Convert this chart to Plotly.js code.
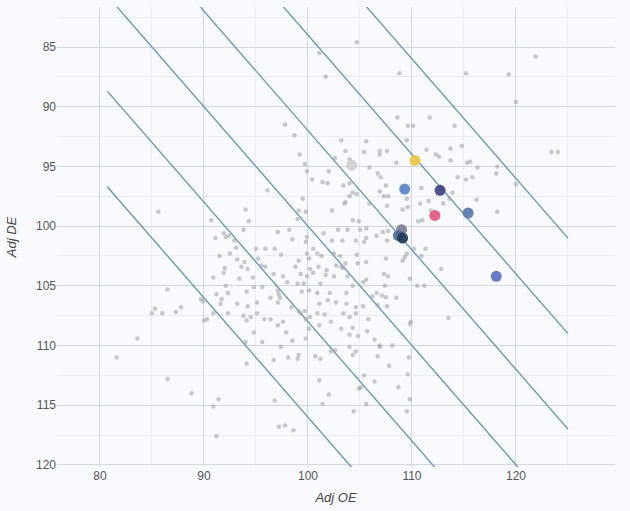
<!DOCTYPE html>
<html>
<head>
<meta charset="utf-8">
<script src="https://cdn.plot.ly/plotly-3.0.1.min.js"></script>
<style>
html,body{margin:0;padding:0;background:#f8fafd;}
#chart{width:630px;height:511px;}
</style>
</head>
<body>
<div id="chart"></div>
<script>
// All teams: adjusted offensive / defensive efficiency
const grayOE = [104.7,101.1,101.7,108.8,115.2,119.3,121.9,120.0,108.6,109.6,110.1,111.7,114.1,97.8,98.7,103.2,105.6,109.5,111.4,113.7,114.8,123.4,124.0,103.6,105.4,106.9,107.6,106.9,104.0,99.2,102.6,108.5,112.3,112.6,113.7,115.3,115.6,116.3,118.2,118.1,120.0,99.7,99.9,102.0,105.9,106.7,107.0,100.4,101.4,101.9,103.4,104.0,107.5,106.9,110.9,113.9,115.2,115.8,114.4,96.1,99.5,104.3,104.0,104.7,107.3,107.7,105.9,103.6,103.5,109.5,110.8,111.6,113.6,116.2,113.0,85.6,94.0,99.1,99.8,102.3,107.6,109.1,109.6,111.8,118.2,111.0,110.6,94.3,99.0,104.3,104.9,90.7,91.9,93.8,97.1,98.2,99.9,101.5,102.9,103.8,105.0,105.6,106.6,105.6,107.2,107.7,108.5,91.1,92.1,92.4,92.9,95.0,95.9,96.8,98.5,99.8,100.5,102.3,103.3,104.6,105.4,107.6,110.2,111.3,110.9,109.5,91.5,92.5,93.2,95.2,97.4,99.1,99.9,100.1,100.9,101.3,102.5,103.1,103.6,104.7,105.6,107.5,109.1,93.6,94.2,95.5,95.9,98.8,100.2,101.0,101.8,102.7,103.2,103.4,104.8,112.8,92.0,90.9,93.4,94.7,96.7,97.6,99.3,99.9,100.5,101.7,102.5,103.8,107.3,107.7,109.8,110.5,111.2,92.1,94.8,95.6,98.0,99.0,99.6,101.2,104.3,105.6,105.3,107.4,86.5,91.2,92.3,94.1,97.1,97.2,99.4,100.1,100.9,102.1,103.7,106.2,106.6,107.1,108.5,85.3,87.3,87.8,89.7,89.9,91.7,91.6,93.2,95.1,96.4,97.1,97.3,98.4,99.7,101.1,101.9,102.7,103.7,104.6,105.3,106.7,107.6,85.0,86.0,90.0,90.3,90.9,92.3,93.8,94.5,95.1,95.8,96.4,97.6,99.1,99.3,99.8,100.2,100.9,101.6,102.2,103.4,104.0,104.6,105.8,109.8,109.9,113.5,83.6,94.8,97.1,97.9,100.1,101.1,103.2,104.0,104.3,104.8,105.7,106.4,94.0,95.6,97.4,98.5,99.8,102.2,102.6,104.0,104.6,106.9,108.1,81.6,94.1,96.7,98.1,99.0,99.1,100.7,101.2,104.3,106.7,107.8,109.7,86.5,101.1,109.6,105.4,102.0,104.9,105.1,106.4,88.8,91.4,90.9,96.8,101.4,105.6,108.7,109.8,104.4,109.5,97.2,97.8,98.6,91.2,93.1,93.9,94.2,94.1,91.9,107.5,109.3,106.9];
const grayDE = [84.6,85.5,87.5,87.2,87.2,87.3,85.8,89.6,90.9,91.6,91.6,90.9,91.6,91.5,92.4,92.8,92.9,92.8,93.6,93.5,93.3,93.8,93.8,93.7,93.8,93.7,93.7,94.0,94.4,94.0,94.3,94.7,94.0,94.2,94.5,94.7,94.6,95.1,95.0,95.6,96.5,94.8,95.4,95.4,95.1,95.6,95.9,96.1,96.3,96.4,96.6,96.4,96.6,97.1,96.8,97.2,96.1,95.9,95.9,97.0,97.7,97.2,97.5,97.3,97.5,97.5,98.1,98.0,98.1,97.7,98.1,97.9,97.7,97.8,98.1,98.8,98.6,98.7,98.8,98.7,98.3,98.6,98.4,98.7,98.8,99.5,99.6,99.6,99.4,99.5,99.6,99.5,100.6,100.3,100.5,100.3,100.9,100.6,100.3,100.3,100.3,100.2,100.8,101.0,100.5,100.4,100.6,101.0,100.9,100.8,101.2,101.9,101.9,101.9,101.1,101.3,101.9,101.2,101.2,101.2,101.3,101.2,101.9,101.9,102.5,102.3,102.5,102.3,102.8,102.7,102.4,102.9,102.3,102.7,102.3,102.5,102.3,102.5,103.1,102.4,103.0,102.7,102.9,103.4,103.6,103.3,103.4,103.4,103.6,103.4,103.7,103.3,103.4,103.5,103.1,103.6,103.5,104.3,104.4,104.3,104.0,104.2,104.0,104.2,103.9,104.1,104.2,104.2,104.0,104.2,104.4,105.0,105.0,105.0,105.1,105.1,104.7,104.8,104.8,104.8,105.0,104.5,104.7,105.0,105.3,105.7,105.6,105.5,105.4,105.7,105.5,105.4,105.6,105.6,105.6,105.9,105.6,105.8,106.0,106.9,107.2,106.8,106.1,106.3,106.1,106.5,106.5,106.4,106.0,106.4,106.0,106.8,107.1,106.5,106.2,106.4,106.5,106.8,106.7,106.6,106.7,107.3,107.3,107.9,107.8,107.3,107.3,107.5,107.6,107.3,107.8,107.8,108.0,107.1,107.3,107.8,107.6,107.3,107.4,108.0,107.3,107.6,107.3,107.8,108.2,108.0,107.7,109.4,108.9,108.3,108.9,108.6,108.3,108.6,109.1,108.5,109.2,108.8,109.5,109.7,109.7,110.1,109.6,109.4,110.5,110.4,110.1,110.5,110.1,110.0,111.0,111.5,111.2,111.0,111.1,110.8,110.9,111.1,110.8,110.9,111.7,111.0,112.8,112.9,112.4,112.5,114.1,113.6,113.5,113.0,114.0,114.5,115.1,114.6,114.9,114.9,113.5,114.5,115.5,115.5,116.8,116.7,117.1,117.6,101.8,103.0,106.7,107.9,103.9,105.95,102.6,110.0];

// Highlighted teams
const hlOE = [104.2, 110.3, 109.3, 112.7, 112.2, 115.4, 109.0, 108.7, 109.1, 118.1];
const hlDE = [94.9, 94.5, 96.9, 97.0, 99.1, 98.9, 100.3, 100.8, 101.0, 104.2];

// Net efficiency reference lines (OE - DE)
const netLevels = [-16, -8, 0, 8, 16, 24];
const lineOE = [80.7, 125];

// Styles
const hlColors = ['#cdcdd0', '#ebc844', '#5b86c6', '#3f4381', '#e0577c', '#5a79aa', '#7c7b96', '#48698f', '#203a55', '#5e6ec4'];

const traces = [];
netLevels.forEach(function (n) {
  traces.push({
    x: lineOE, y: lineOE.map(function (v) { return v - n; }),
    type: 'scatter', mode: 'lines',
    line: {color: '#6592b0', width: 1.3},
    hoverinfo: 'skip', showlegend: false
  });
});
traces.push({
  x: grayOE, y: grayDE, type: 'scatter', mode: 'markers',
  marker: {size: 4.5, color: 'rgba(165,165,170,0.6)'},
  hoverinfo: 'skip', showlegend: false
});
traces.push({
  x: hlOE, y: hlDE, type: 'scatter', mode: 'markers',
  marker: {size: 11, color: hlColors, opacity: 0.92},
  hoverinfo: 'skip', showlegend: false
});

const gridMajor = '#d3d8e0';
const gridMinor = '#e9ecf1';
const layout = {
  width: 630, height: 511,
  margin: {l: 57, r: 15, t: 7, b: 44},
  paper_bgcolor: '#f8fafd', plot_bgcolor: '#f8fafd',
  font: {family: 'Liberation Sans, Arial, sans-serif', color: '#555', size: 12},
  showlegend: false,
  xaxis: {
    range: [75.87, 129.52], tick0: 80, dtick: 10,
    showgrid: true, gridcolor: gridMajor, gridwidth: 1,
    zeroline: false, showline: false, ticks: '',
    minor: {tick0: 75, dtick: 5, showgrid: true, gridcolor: gridMinor, gridwidth: 1},
    title: {text: 'Adj OE', font: {size: 13, color: '#444', style: 'italic'}, standoff: 10},
    tickfont: {size: 12, color: '#555'}
  },
  yaxis: {
    range: [120.17, 81.65], tick0: 85, dtick: 5,
    showgrid: true, gridcolor: gridMajor, gridwidth: 1,
    zeroline: false, showline: false, ticks: '',
    minor: {tick0: 80, dtick: 2.5, showgrid: true, gridcolor: gridMinor, gridwidth: 1},
    title: {text: 'Adj DE', font: {size: 13, color: '#444', style: 'italic'}, standoff: 16},
    tickfont: {size: 12, color: '#555'}
  },
  hovermode: false
};
Plotly.newPlot('chart', traces, layout, {displayModeBar: false, staticPlot: true});
</script>
</body>
</html>
